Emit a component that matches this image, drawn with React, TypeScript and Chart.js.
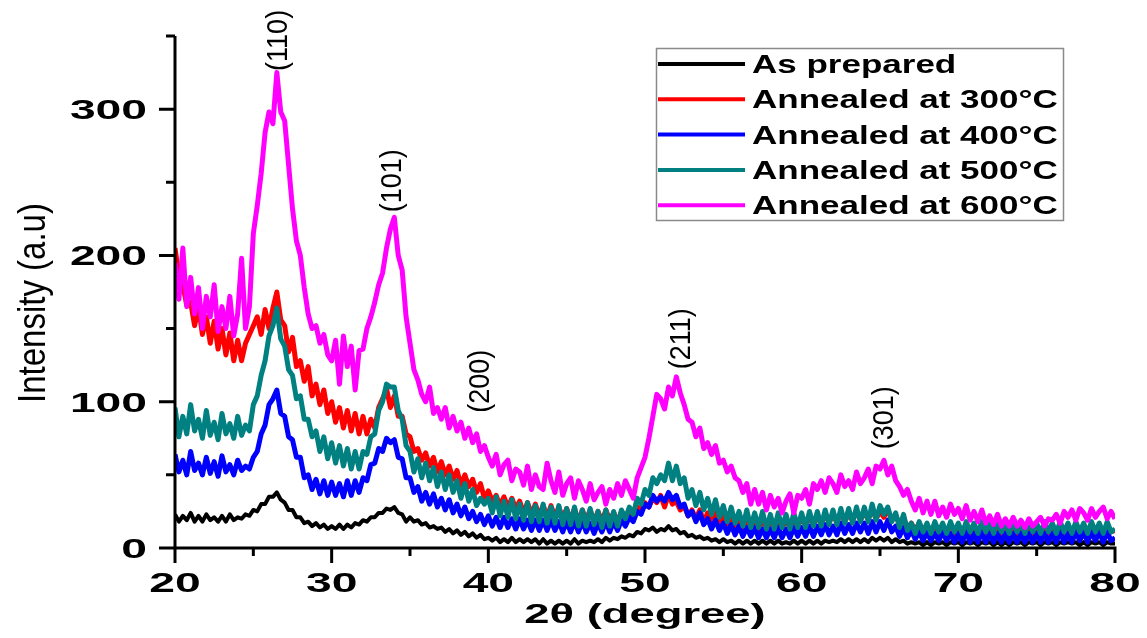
import React, { useEffect, useRef } from "react";
import { Chart, registerables } from "chart.js";

Chart.register(...registerables);

// 2θ sampling grid (degrees)
const TWO_THETA = [
  20, 20.25, 20.5, 20.75, 21, 21.25, 21.5, 21.75, 22, 22.25, 22.5, 22.75,
  23, 23.25, 23.5, 23.75, 24, 24.25, 24.5, 24.75, 25, 25.25, 25.5, 25.75,
  26, 26.25, 26.5, 26.75, 27, 27.25, 27.5, 27.75, 28, 28.25, 28.5, 28.75,
  29, 29.25, 29.5, 29.75, 30, 30.25, 30.5, 30.75, 31, 31.25, 31.5, 31.75,
  32, 32.25, 32.5, 32.75, 33, 33.25, 33.5, 33.75, 34, 34.25, 34.5, 34.75,
  35, 35.25, 35.5, 35.75, 36, 36.25, 36.5, 36.75, 37, 37.25, 37.5, 37.75,
  38, 38.25, 38.5, 38.75, 39, 39.25, 39.5, 39.75, 40, 40.25, 40.5, 40.75,
  41, 41.25, 41.5, 41.75, 42, 42.25, 42.5, 42.75, 43, 43.25, 43.5, 43.75,
  44, 44.25, 44.5, 44.75, 45, 45.25, 45.5, 45.75, 46, 46.25, 46.5, 46.75,
  47, 47.25, 47.5, 47.75, 48, 48.25, 48.5, 48.75, 49, 49.25, 49.5, 49.75,
  50, 50.25, 50.5, 50.75, 51, 51.25, 51.5, 51.75, 52, 52.25, 52.5, 52.75,
  53, 53.25, 53.5, 53.75, 54, 54.25, 54.5, 54.75, 55, 55.25, 55.5, 55.75,
  56, 56.25, 56.5, 56.75, 57, 57.25, 57.5, 57.75, 58, 58.25, 58.5, 58.75,
  59, 59.25, 59.5, 59.75, 60, 60.25, 60.5, 60.75, 61, 61.25, 61.5, 61.75,
  62, 62.25, 62.5, 62.75, 63, 63.25, 63.5, 63.75, 64, 64.25, 64.5, 64.75,
  65, 65.25, 65.5, 65.75, 66, 66.25, 66.5, 66.75, 67, 67.25, 67.5, 67.75,
  68, 68.25, 68.5, 68.75, 69, 69.25, 69.5, 69.75, 70, 70.25, 70.5, 70.75,
  71, 71.25, 71.5, 71.75, 72, 72.25, 72.5, 72.75, 73, 73.25, 73.5, 73.75,
  74, 74.25, 74.5, 74.75, 75, 75.25, 75.5, 75.75, 76, 76.25, 76.5, 76.75,
  77, 77.25, 77.5, 77.75, 78, 78.25, 78.5, 78.75, 79, 79.25, 79.5, 79.75,
  80,
];

const AS_PREPARED = [
  23, 18, 22, 19, 24, 18, 22, 18, 23, 19, 21, 18, 22, 18, 23, 19,
  21, 20, 23, 22, 26, 25, 30, 30, 35, 35, 38, 33, 31, 26, 26, 21,
  21, 17, 18, 15, 17, 14, 16, 13, 15, 13, 16, 13, 16, 14, 17, 16,
  19, 18, 21, 21, 24, 24, 27, 26, 28, 24, 23, 18, 21, 18, 19, 16,
  17, 14, 15, 13, 14, 11, 13, 10, 12, 9, 11, 8, 10, 7, 9, 6,
  7, 5, 7, 4, 6, 4, 7, 4, 6, 4, 6, 4, 6, 3, 6, 3,
  5, 3, 5, 3, 5, 3, 6, 3, 5, 4, 5, 4, 6, 4, 7, 5,
  7, 6, 8, 7, 9, 8, 11, 10, 13, 12, 14, 11, 13, 12, 15, 12,
  13, 10, 11, 8, 9, 7, 8, 6, 7, 5, 6, 4, 6, 4, 5, 3,
  5, 3, 5, 3, 5, 3, 5, 3, 5, 3, 5, 3, 4, 3, 5, 3,
  5, 3, 5, 3, 5, 3, 5, 4, 5, 4, 6, 4, 6, 4, 6, 4,
  6, 4, 7, 5, 7, 5, 7, 4, 6, 4, 5, 3, 4, 3, 4, 2,
  4, 2, 4, 3, 4, 2, 4, 3, 4, 2, 4, 3, 4, 2, 4, 3,
  4, 2, 4, 2, 4, 2, 4, 3, 4, 2, 4, 3, 4, 2, 4, 3,
  4, 2, 4, 3, 4, 3, 4, 2, 4, 2, 4, 3, 4, 2, 4, 3,
  3,
];

const ANNEALED_300 = [
  205, 186, 180, 166, 168, 152, 165, 146, 158, 140, 155, 136, 150, 132, 147, 128,
  142, 128, 140, 146, 152, 158, 146, 163, 150, 164, 175, 156, 152, 134, 144, 124,
  128, 114, 124, 104, 112, 98, 108, 92, 100, 86, 96, 82, 94, 80, 92, 78,
  90, 78, 88, 82, 96, 102, 109, 96, 104, 90, 90, 78, 76, 66, 68, 60,
  65, 56, 62, 52, 59, 50, 56, 47, 53, 43, 50, 42, 47, 38, 44, 34,
  39, 32, 36, 29, 35, 28, 34, 27, 32, 24, 31, 23, 30, 22, 29, 21,
  29, 21, 28, 20, 27, 19, 27, 18, 26, 19, 26, 18, 25, 18, 26, 19,
  24, 18, 25, 21, 26, 21, 28, 26, 31, 28, 34, 31, 36, 28, 37, 30,
  32, 26, 29, 22, 26, 20, 26, 18, 24, 17, 24, 16, 22, 15, 22, 15,
  20, 14, 20, 14, 19, 13, 20, 13, 19, 13, 20, 14, 19, 14, 20, 15,
  20, 16, 21, 16, 21, 17, 22, 18, 22, 18, 24, 18, 23, 19, 25, 19,
  24, 20, 26, 20, 25, 21, 26, 20, 22, 16, 20, 14, 17, 12, 17, 11,
  16, 11, 16, 10, 15, 11, 16, 10, 15, 10, 16, 10, 14, 10, 15, 9,
  14, 9, 15, 9, 13, 9, 14, 9, 13, 9, 14, 9, 13, 9, 14, 10,
  14, 10, 15, 10, 14, 10, 16, 11, 15, 10, 16, 11, 15, 10, 15, 11,
  12,
];

const ANNEALED_400 = [
  64, 52, 60, 50, 66, 53, 58, 50, 62, 51, 59, 49, 63, 52, 57, 50,
  60, 53, 56, 54, 62, 66, 78, 84, 98, 102, 108, 92, 90, 76, 74, 62,
  62, 48, 50, 40, 47, 37, 46, 36, 45, 36, 44, 35, 46, 36, 46, 38,
  48, 46, 57, 58, 68, 66, 75, 72, 74, 62, 61, 48, 48, 38, 42, 32,
  38, 30, 37, 28, 34, 26, 33, 24, 30, 22, 28, 20, 25, 18, 23, 16,
  22, 15, 21, 14, 21, 14, 20, 13, 20, 13, 19, 12, 19, 12, 19, 12,
  19, 12, 18, 11, 18, 11, 18, 11, 18, 11, 17, 10, 17, 11, 18, 11,
  18, 12, 19, 15, 21, 18, 25, 23, 30, 28, 36, 32, 35, 32, 38, 33,
  36, 28, 30, 22, 25, 18, 24, 16, 20, 13, 19, 12, 17, 10, 16, 9,
  15, 8, 14, 8, 14, 7, 13, 7, 13, 7, 14, 7, 13, 7, 14, 8,
  14, 8, 15, 8, 15, 9, 16, 9, 15, 9, 17, 10, 16, 10, 17, 11,
  17, 10, 18, 11, 18, 12, 19, 11, 15, 8, 14, 7, 12, 6, 11, 5,
  11, 5, 10, 5, 11, 5, 10, 4, 10, 4, 11, 4, 10, 4, 11, 4,
  10, 4, 10, 4, 10, 4, 10, 4, 10, 4, 10, 4, 10, 4, 10, 4,
  10, 4, 11, 4, 10, 4, 11, 5, 11, 4, 11, 5, 11, 4, 11, 5,
  7,
];

const ANNEALED_500 = [
  96, 76, 90, 78, 98, 80, 88, 75, 94, 77, 86, 74, 92, 78, 85, 75,
  90, 77, 84, 80, 98, 104, 118, 128, 145, 152, 164, 143, 138, 122, 118, 102,
  104, 88, 88, 76, 80, 66, 76, 61, 72, 58, 70, 56, 68, 54, 66, 54,
  66, 64, 76, 78, 94, 100, 112, 110, 110, 94, 88, 70, 66, 52, 61, 48,
  58, 46, 55, 42, 52, 40, 50, 38, 46, 34, 44, 32, 40, 29, 34, 30,
  34, 24, 35, 22, 32, 21, 33, 20, 30, 19, 31, 18, 29, 18, 30, 17,
  28, 17, 29, 16, 27, 16, 28, 15, 26, 15, 27, 16, 25, 14, 26, 15,
  25, 15, 26, 20, 28, 23, 34, 30, 40, 36, 48, 44, 50, 46, 58, 46,
  56, 44, 48, 34, 40, 29, 38, 26, 34, 23, 33, 21, 29, 18, 28, 17,
  25, 15, 26, 14, 24, 14, 25, 13, 23, 13, 24, 14, 23, 13, 24, 14,
  24, 14, 25, 15, 25, 15, 26, 16, 26, 16, 27, 17, 27, 17, 28, 18,
  28, 18, 30, 19, 29, 23, 28, 18, 24, 14, 23, 12, 17, 10, 18, 11,
  17, 10, 18, 11, 17, 10, 18, 11, 17, 10, 18, 11, 17, 10, 18, 11,
  17, 10, 18, 11, 17, 10, 18, 11, 17, 10, 18, 11, 17, 10, 18, 11,
  17, 10, 18, 11, 17, 10, 18, 11, 17, 10, 18, 11, 17, 10, 18, 11,
  13,
];

const ANNEALED_600 = [
  195, 170, 205, 165, 185, 160, 178, 150, 172, 158, 180, 148, 165, 150, 172, 145,
  160, 198, 150, 165, 215, 234, 256, 284, 298, 290, 325, 298, 292, 262, 232, 210,
  200, 178, 160, 150, 152, 140, 146, 132, 128, 142, 112, 145, 124, 138, 108, 135,
  136, 150, 158, 168, 180, 188, 205, 218, 226, 200, 190, 158, 140, 122, 115, 105,
  100, 110, 92, 96, 88, 96, 82, 90, 80, 86, 75, 82, 72, 78, 66, 70,
  62, 56, 64, 50, 57, 60, 46, 54, 52, 43, 56, 40, 50, 42, 40, 58,
  46, 38, 52, 36, 44, 48, 34, 46, 40, 32, 44, 33, 38, 42, 30, 40,
  34, 44, 36, 46, 40, 34, 48, 55, 62, 75, 90, 105, 102, 95, 110, 104,
  117, 106, 98, 88, 86, 76, 82, 68, 72, 64, 70, 58, 60, 52, 56, 48,
  46, 38, 44, 30, 40, 30, 38, 26, 36, 28, 34, 24, 32, 37, 24, 36,
  34, 40, 30, 44, 40, 46, 38, 48, 44, 38, 50, 42, 46, 40, 52, 44,
  48, 54, 44, 56, 54, 60, 50, 56, 46, 42, 36, 40, 32, 26, 34, 24,
  32, 23, 32, 22, 28, 21, 30, 23, 27, 20, 29, 19, 25, 18, 26, 17,
  22, 16, 23, 15, 20, 15, 21, 15, 19, 14, 20, 15, 18, 21, 15, 20,
  19, 23, 17, 25, 21, 26, 19, 27, 24, 19, 27, 21, 25, 28, 20, 25,
  20,
];

const SERIES_LABELS = [
  "As prepared",
  "Annealed at 300°C",
  "Annealed at 400°C",
  "Annealed at 500°C",
  "Annealed at 600°C",
];
const SERIES_COLORS = ["#000000", "#ff0000", "#0000ff", "#008080", "#ff00ff"];
const SERIES_VALUES = [AS_PREPARED, ANNEALED_300, ANNEALED_400, ANNEALED_500, ANNEALED_600];

const X_MAJOR_TICKS = [20, 30, 40, 50, 60, 70, 80];
const X_MINOR_TICKS = [25, 35, 45, 55, 65, 75];
const Y_MAJOR_TICKS = [0, 100, 200, 300];
const Y_MINOR_TICKS = [50, 150, 250, 350];

const PEAK_LABELS = ["(110)", "(101)", "(200)", "(211)", "(301)"];
const PEAK_X = [26.65, 33.9, 39.5, 52.35, 65.3];
const PEAK_Y = [347, 251, 114, 143, 89];

const X_TITLE = "2θ (degree)";
const Y_TITLE = "Intensity (a.u)";

const FONT = "'Liberation Sans', Arial, Helvetica, sans-serif";

function drawStretched(
  ctx: CanvasRenderingContext2D,
  text: string,
  x: number,
  y: number,
  sx: number,
  align: CanvasTextAlign
) {
  ctx.save();
  ctx.translate(x, y);
  ctx.scale(sx, 1);
  ctx.textAlign = align;
  ctx.textBaseline = "alphabetic";
  ctx.fillText(text, 0, 0);
  ctx.restore();
}

const overlayPlugin = {
  id: "xrdOverlay",
  afterDatasetsDraw(chart: any) {
    const ctx: CanvasRenderingContext2D = chart.ctx;
    const xs = chart.scales.x;
    const ys = chart.scales.y;
    const { left, right, top, bottom } = chart.chartArea;

    ctx.save();
    ctx.strokeStyle = "#000";
    ctx.fillStyle = "#000";
    ctx.lineWidth = 3;
    ctx.lineCap = "butt";
    ctx.beginPath();
    ctx.moveTo(left, top);
    ctx.lineTo(left, bottom + 1.5);
    ctx.moveTo(left - 1.5, bottom);
    ctx.lineTo(right + 1.5, bottom);
    Y_MAJOR_TICKS.forEach((v) => {
      const p = ys.getPixelForValue(v);
      ctx.moveTo(left, p);
      ctx.lineTo(left - 16, p);
    });
    Y_MINOR_TICKS.forEach((v) => {
      const p = ys.getPixelForValue(v);
      ctx.moveTo(left, p);
      ctx.lineTo(left - 9, p);
    });
    X_MAJOR_TICKS.forEach((v) => {
      const p = xs.getPixelForValue(v);
      ctx.moveTo(p, bottom);
      ctx.lineTo(p, bottom + 15);
    });
    X_MINOR_TICKS.forEach((v) => {
      const p = xs.getPixelForValue(v);
      ctx.moveTo(p, bottom);
      ctx.lineTo(p, bottom + 8);
    });
    ctx.stroke();

    // tick labels
    ctx.font = `bold 28px ${FONT}`;
    Y_MAJOR_TICKS.forEach((v) => {
      const p = ys.getPixelForValue(v);
      drawStretched(ctx, String(v), left - 28, p + 10, 1.65, "right");
    });
    X_MAJOR_TICKS.forEach((v) => {
      const p = xs.getPixelForValue(v);
      drawStretched(ctx, String(v), p, bottom + 44, 1.65, "center");
    });

    // axis titles
    ctx.font = `bold 28px ${FONT}`;
    drawStretched(ctx, X_TITLE, (left + right) / 2, bottom + 75, 1.62, "center");

    ctx.save();
    ctx.font = `33px ${FONT}`;
    ctx.translate(45, 303);
    ctx.rotate(-Math.PI / 2);
    ctx.scale(1, 1.15);
    ctx.textAlign = "center";
    ctx.textBaseline = "alphabetic";
    ctx.fillText(Y_TITLE, 0, 0);
    ctx.restore();

    // peak annotations
    ctx.font = `27px ${FONT}`;
    PEAK_LABELS.forEach((lab, i) => {
      const px = xs.getPixelForValue(PEAK_X[i]);
      const py = ys.getPixelForValue(PEAK_Y[i]);
      ctx.save();
      ctx.translate(px, py);
      ctx.rotate(-Math.PI / 2);
      ctx.scale(1, 1.08);
      ctx.textAlign = "center";
      ctx.textBaseline = "middle";
      ctx.fillText(lab, 0, 0);
      ctx.restore();
    });

    // legend
    const boxX = 656;
    const boxY = 48;
    const boxW = 407;
    const boxH = 172;
    ctx.fillStyle = "#ffffff";
    ctx.fillRect(boxX, boxY, boxW, boxH);
    ctx.strokeStyle = "#8a8a8a";
    ctx.lineWidth = 1.5;
    ctx.strokeRect(boxX + 0.5, boxY + 0.5, boxW, boxH);
    ctx.font = `bold 25px ${FONT}`;
    SERIES_LABELS.forEach((lab, i) => {
      const ry = boxY + 16 + i * 35.3;
      ctx.strokeStyle = SERIES_COLORS[i];
      ctx.lineWidth = 4;
      ctx.beginPath();
      ctx.moveTo(boxX + 2, ry);
      ctx.lineTo(boxX + 89, ry);
      ctx.stroke();
      ctx.fillStyle = "#000";
      drawStretched(ctx, lab, boxX + 96, ry + 9, 1.4, "left");
    });
    ctx.restore();
  },
};

export default function App() {
  const canvasRef = useRef<HTMLCanvasElement | null>(null);

  useEffect(() => {
    const canvas = canvasRef.current;
    if (!canvas) return;
    const orderMap = [5, 4, 3, 2, 1];
    const chart = new Chart(canvas, {
      type: "line",
      data: {
        datasets: SERIES_VALUES.map((vals, k) => ({
          label: SERIES_LABELS[k],
          data: TWO_THETA.map((x, i) => ({ x, y: vals[i] })),
          borderColor: SERIES_COLORS[k],
          backgroundColor: SERIES_COLORS[k],
          borderWidth: k === 0 ? 4 : 5,
          pointRadius: 0,
          tension: 0,
          borderJoinStyle: "round" as const,
          fill: false,
          order: orderMap[k],
        })),
      },
      options: {
        responsive: false,
        animation: false,
        events: [],
        layout: { padding: { left: 175, top: 36, right: 32, bottom: 90 } },
        scales: {
          x: { type: "linear", min: 20, max: 80, display: false },
          y: { type: "linear", min: 0, max: 350, display: false },
        },
        plugins: {
          legend: { display: false },
          tooltip: { enabled: false },
        },
      },
      plugins: [overlayPlugin],
    });
    return () => chart.destroy();
  }, []);

  return (
    <div
      style={{
        position: "fixed",
        left: 0,
        top: 0,
        width: 1147,
        height: 638,
        background: "#ffffff",
      }}
    >
      <canvas ref={canvasRef} width={1147} height={638} style={{ display: "block" }} />
    </div>
  );
}
